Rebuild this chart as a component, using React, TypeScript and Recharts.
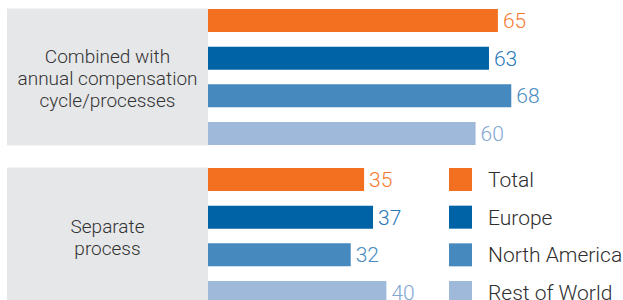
import React from "react";
import { BarChart, Bar, XAxis, YAxis, LabelList, Legend } from "recharts";

const categories = ["Combined with annual compensation cycle/processes", "Separate process"];
const categoryLines = [["Combined with", "annual compensation", "cycle/processes"], ["Separate", "process"]];
const seriesNames = ["Total", "Europe", "North America", "Rest of World"];
const totalValues = [65, 35];
const europeValues = [63, 37];
const northAmericaValues = [68, 32];
const restOfWorldValues = [60, 40];

const barColors = ["#f37021", "#0063a6", "#4589be", "#9fb9da"];
const labelColors = ["#f47a32", "#2a79b9", "#4a8cc2", "#82a7d2"];
const FONT = "Roboto, 'Liberation Sans', Arial, sans-serif";
const WEIGHT = 300;

const data = categories.map((c, i) => ({
  category: c,
  Total: totalValues[i],
  Europe: europeValues[i],
  "North America": northAmericaValues[i],
  "Rest of World": restOfWorldValues[i],
}));

const CategoryTick = (props: any) => {
  const { y, payload } = props;
  const idx = categories.indexOf(payload.value);
  const lines = categoryLines[idx] || [payload.value];
  const lh = 22;
  const first = y + 7 - ((lines.length - 1) / 2) * lh;
  return (
    <g>
      <rect x={7} y={y - 69} width={201} height={137} fill="#e6e7e9" />
      <text x={107.5} textAnchor="middle" fontSize={19} fontWeight={WEIGHT} fill="#333333" fontFamily={FONT}>
        {lines.map((l: string, i: number) => (
          <tspan key={i} x={107.5} y={first + i * lh}>
            {l}
          </tspan>
        ))}
      </text>
    </g>
  );
};

const LegendContent = () => (
  <svg width={180} height={140} style={{ display: "block" }}>
    {seriesNames.map((n, i) => {
      const top = i * 37.67;
      return (
        <g key={n}>
          <rect x={0} y={top} width={23} height={23} fill={barColors[i]} />
          <text x={39} y={top + 11.5 + 7.5} fontSize={21} fontWeight={WEIGHT} fill="#2e2e2e" fontFamily={FONT}>
            {n}
          </text>
        </g>
      );
    })}
  </svg>
);

export default function App() {
  return (
    <div style={{ position: "absolute", left: 0, top: 0, width: 623, height: 300, overflow: "hidden", background: "#fff" }}>
      <BarChart
        width={654}
        height={300}
        data={data}
        layout="vertical"
        margin={{ top: -2, right: 0, bottom: -16, left: 0 }}
        barSize={23}
        barGap={14.67}
      >
        <XAxis type="number" domain={[0, 100]} hide />
        <YAxis
          type="category"
          dataKey="category"
          width={208}
          axisLine={false}
          tickLine={false}
          tick={<CategoryTick />}
          interval={0}
        />
        <Legend
          layout="vertical"
          align="center"
          verticalAlign="middle"
          content={<LegendContent />}
          wrapperStyle={{ left: 449, top: 168, width: 180, height: 140 }}
        />
        {seriesNames.map((n, i) => (
          <Bar key={n} dataKey={n} fill={barColors[i]} isAnimationActive={false}>
            <LabelList dataKey={n} position="right" offset={5} fontSize={21} fontWeight={WEIGHT} fill={labelColors[i]} fontFamily={FONT} />
          </Bar>
        ))}
      </BarChart>
    </div>
  );
}
